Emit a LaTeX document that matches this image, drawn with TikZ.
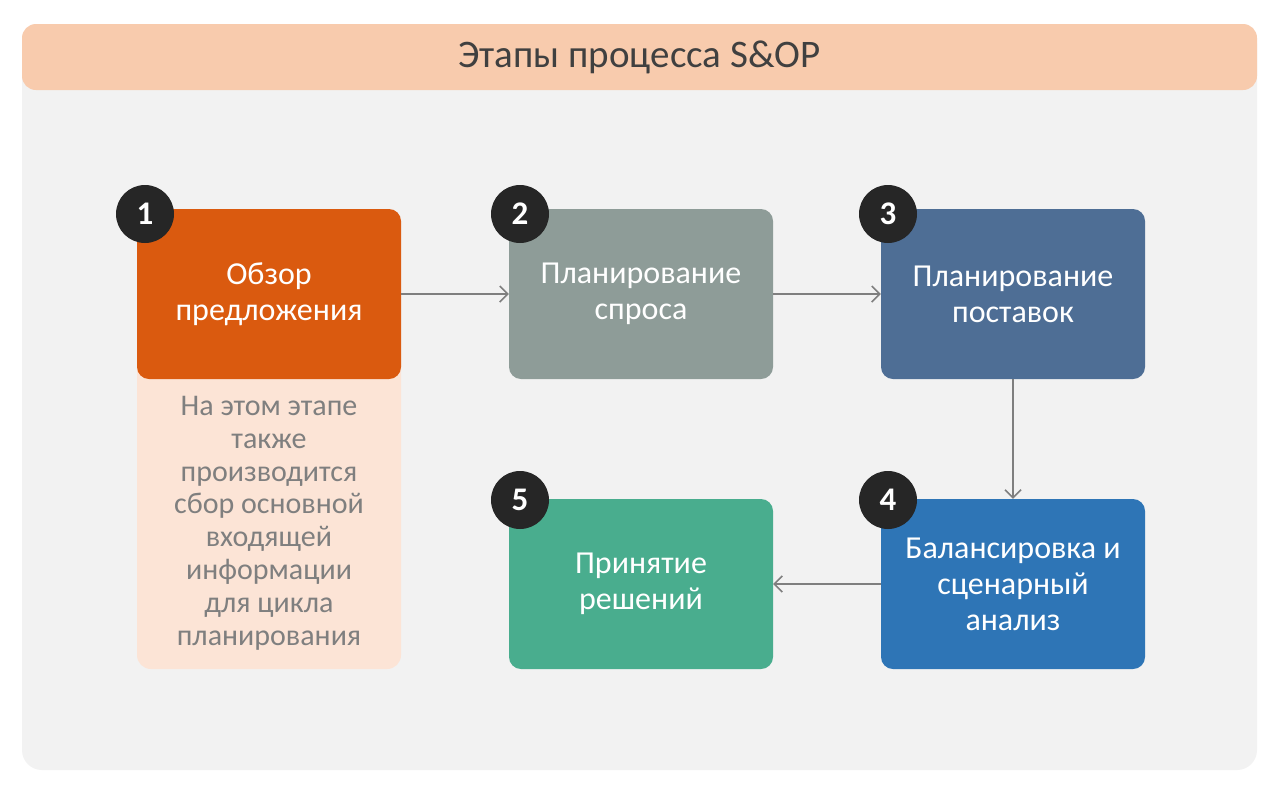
\documentclass[tikz,border=0pt]{standalone}
\usepackage{fontspec}
\setmainfont{Carlito}
\usetikzlibrary{arrows.meta}
\definecolor{panel}{HTML}{F2F2F2}
\definecolor{band}{HTML}{F8CBAD}
\definecolor{titlec}{HTML}{404040}
\definecolor{cone}{HTML}{DA5A0F}
\definecolor{ctwo}{HTML}{8E9C98}
\definecolor{cthree}{HTML}{4E6E95}
\definecolor{cfour}{HTML}{2E75B6}
\definecolor{cfive}{HTML}{49AD8E}
\definecolor{desc}{HTML}{FCE4D6}
\definecolor{desctext}{HTML}{7F7F7F}
\definecolor{badge}{HTML}{262626}
\definecolor{arrowc}{HTML}{7F7F7F}
\tikzset{
  stagebox/.style={rectangle, rounded corners=12pt, minimum width=264pt, minimum height=170pt,
    text=white, align=center, font=\fontsize{32}{36}\selectfont, inner sep=0pt},
  numbadge/.style={circle, fill=badge, minimum size=58pt, inner sep=0pt, text=white,
    font=\fontsize{33}{33}\selectfont\bfseries},
  flow/.style={draw=arrowc, line width=1.5pt, -{Straight Barb[length=8pt,width=16pt,line width=1.5pt]}},
}
\begin{document}
\begin{tikzpicture}[x=1pt,y=-1pt]
\useasboundingbox (0,0) rectangle (1280,801);
\fill[white] (0,0) rectangle (1280,801);
\fill[panel, rounded corners=20pt] (22,24) rectangle (1257,770);
\node[fill=band, rounded corners=14pt, minimum width=1235pt, minimum height=66pt, inner sep=0pt,
  text=titlec, font=\fontsize{39}{39}\selectfont] (title) at (639.5,57) {Этапы процесса S\&OP};
% description
\fill[desc, rounded corners=14pt] (137,340) rectangle (401,669);
\node[inner sep=0pt, text=desctext, align=center, font=\fontsize{30}{32.8}\selectfont] (d1) at (269,523)
  {На этом этапе\\также\\производится\\сбор основной\\входящей\\информации\\для цикла\\планирования};
% boxes
\node[stagebox, fill=cone] (b1) at (269,294) {Обзор\\предложения};
\node[stagebox, fill=ctwo] (b2) at (641,294) {Планирование\\спроса};
\node[stagebox, fill=cthree] (b3) at (1013,294) {Планирование\\поставок};
\node[stagebox, fill=cfour] (b4) at (1013,584) {Балансировка и\\сценарный\\анализ};
\node[stagebox, fill=cfive] (b5) at (641,584) {Принятие\\решений};
% badges
\node[numbadge] (n1) at (145,214) {1};
\node[numbadge] (n2) at (520,214) {2};
\node[numbadge] (n3) at (888,214) {3};
\node[numbadge] (n4) at (888,500) {4};
\node[numbadge] (n5) at (520,500) {5};
% arrows
\draw[flow] (b1.east) -- (b2.west);
\draw[flow] (b2.east) -- (b3.west);
\draw[flow] (b3.south) -- (b4.north);
\draw[flow] (b4.west) -- (b5.east);
\end{tikzpicture}
\end{document}
